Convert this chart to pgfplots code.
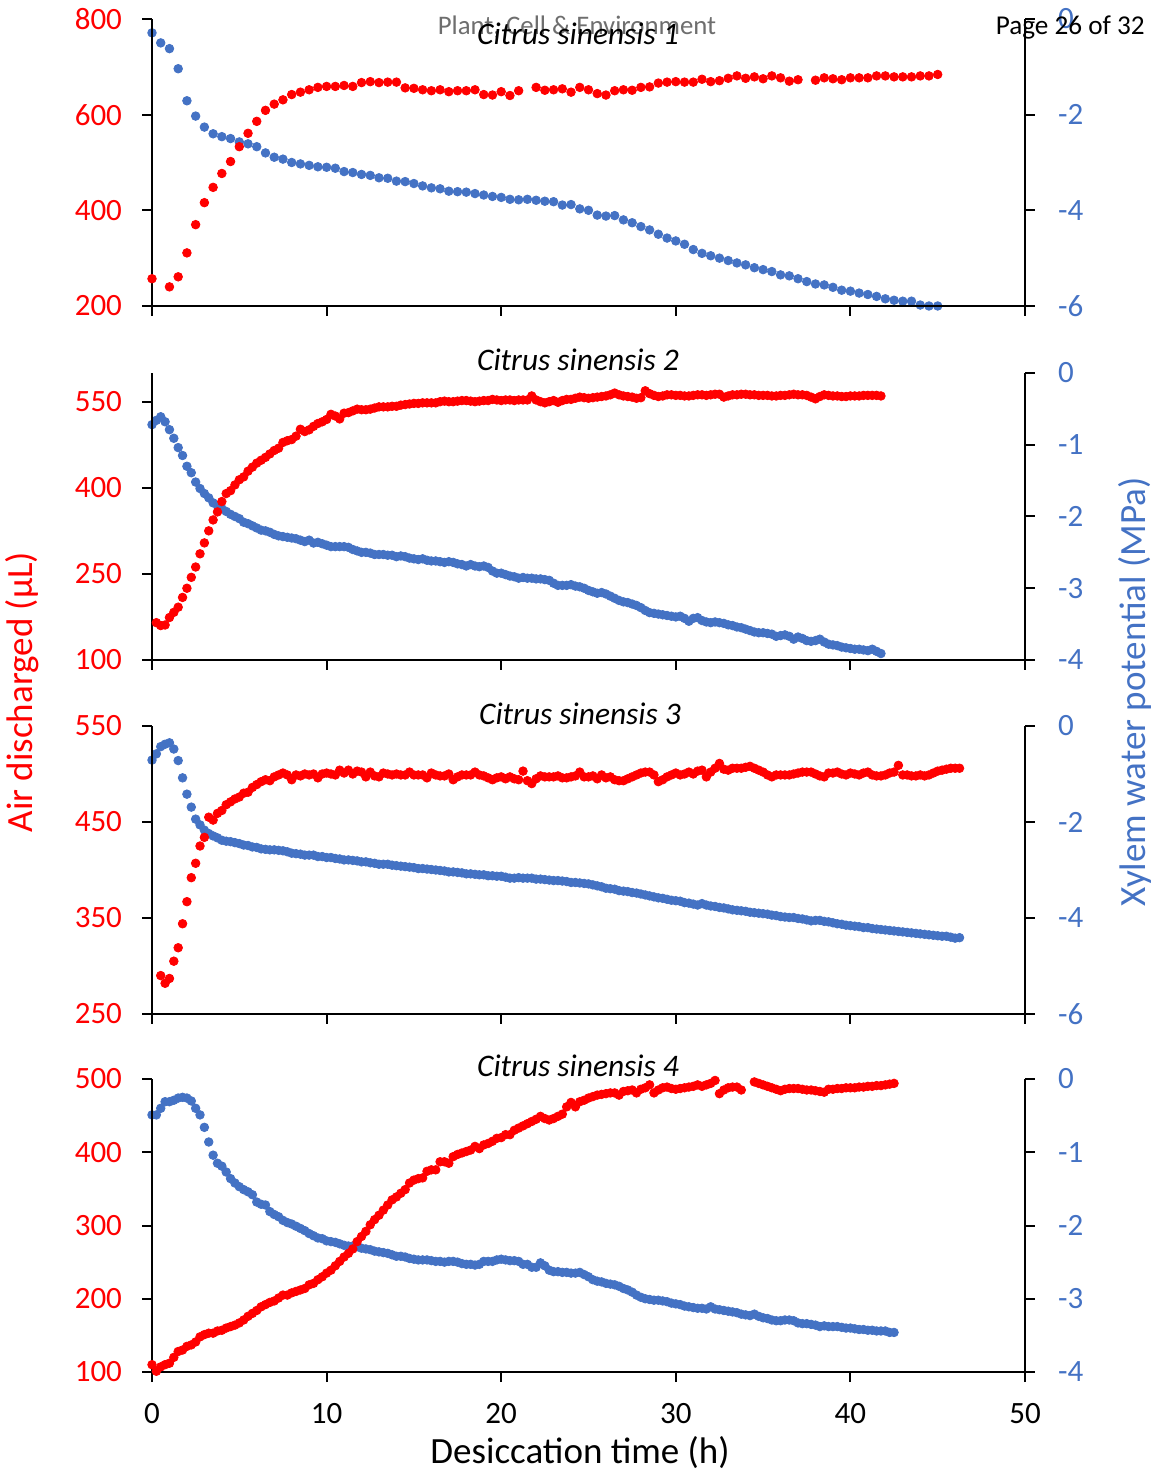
\documentclass[border=0pt]{standalone}
\usepackage{fontspec}
\setmainfont{Carlito}
\usepackage{pgfplots}
\pgfplotsset{compat=1.18}
\definecolor{myred}{RGB}{255,0,0}
\definecolor{myblue}{RGB}{68,114,196}
\definecolor{hdrgray}{RGB}{110,110,110}
\pgfplotsset{
  panel/.style={width=436.5pt, scale only axis, xmin=0, xmax=50, clip=false,
    axis line style={line width=1pt, black}, tick style={line width=1pt, black},
    major tick length=5pt, tick align=outside,
    xtick={0,10,20,30,40,50},
    ticklabel style={font=\fontsize{15.5}{18}\selectfont},
    xticklabel style={yshift=-7pt}},
  leftax/.style={panel, axis x line*=bottom, axis y line*=left, xticklabels={},
    yticklabel style={text=myred, xshift=-6.5pt}},
  rightax/.style={panel, axis x line=none, axis y line*=right,
    yticklabel style={text=myblue, xshift=8pt}},
  redm/.style={only marks, mark=*, mark size=2.15pt, color=myred, mark options={fill=myred, draw=myred}},
  bluem/.style={only marks, mark=*, mark size=2.15pt, color=myblue, mark options={fill=myblue, draw=myblue}},
}
\begin{document}
\begin{tikzpicture}
\useasboundingbox (0,0) rectangle (577.5pt,738.5pt);
% ---------------- Panel 1 ----------------
\begin{axis}[rightax, at={(76pt,585.5pt)}, anchor=south west, height=143.5pt,
  ymin=-6, ymax=0, ytick={-6,-4,-2,0}, yticklabels={-6,-4,-2,0}]
\addplot[bluem] coordinates {(0,-0.29)(0.5,-0.50)(1,-0.62)(1.5,-1.04)(2,-1.71)(2.5,-2.03)(3,-2.26)(3.5,-2.40)(4,-2.46)(4.5,-2.50)(5,-2.57)(5.5,-2.61)(6,-2.67)(6.5,-2.80)(7,-2.89)(7.5,-2.93)(8,-3.00)(8.5,-3.03)(9,-3.06)(9.5,-3.09)(10,-3.10)(10.5,-3.12)(11,-3.19)(11.5,-3.21)(12,-3.25)(12.5,-3.27)(13,-3.32)(13.5,-3.33)(14,-3.39)(14.5,-3.40)(15,-3.44)(15.5,-3.49)(16,-3.53)(16.5,-3.55)(17,-3.60)(17.5,-3.61)(18,-3.62)(18.5,-3.65)(19,-3.68)(19.5,-3.71)(20,-3.73)(20.5,-3.77)(21,-3.78)(21.5,-3.77)(22,-3.79)(22.5,-3.81)(23,-3.82)(23.5,-3.89)(24,-3.88)(24.5,-3.97)(25,-4.00)(25.5,-4.10)(26,-4.12)(26.5,-4.11)(27,-4.20)(27.5,-4.26)(28,-4.34)(28.5,-4.41)(29,-4.50)(29.5,-4.58)(30,-4.64)(30.5,-4.71)(31,-4.82)(31.5,-4.90)(32,-4.95)(32.5,-5.00)(33,-5.05)(33.5,-5.10)(34,-5.14)(34.5,-5.20)(35,-5.24)(35.5,-5.28)(36,-5.35)(36.5,-5.37)(37,-5.43)(37.5,-5.49)(38,-5.54)(38.5,-5.56)(39,-5.61)(39.5,-5.67)(40,-5.69)(40.5,-5.73)(41,-5.76)(41.5,-5.80)(42,-5.85)(42.5,-5.88)(43,-5.90)(43.5,-5.90)(44,-5.98)(44.5,-6.00)(45,-6.00)};
\end{axis}
\begin{axis}[leftax, at={(76pt,585.5pt)}, anchor=south west, height=143.5pt,
  ymin=200, ymax=800, ytick={200,400,600,800}, yticklabels={200,400,600,800}]
\addplot[redm] coordinates {(0,257)(1,240)(1.5,261)(2,311)(2.5,370)(3,416)(3.5,448)(4,477)(4.5,502)(5,533)(5.5,561)(6,586)(6.5,609)(7,622)(7.5,631)(8,642)(8.5,647)(9,652)(9.5,657)(10,659)(10.5,659)(11,661)(11.5,659)(12,667)(12.5,669)(13,667)(13.5,668)(14,668)(14.5,656)(15,655)(15.5,652)(16,650)(16.5,652)(17,648)(17.5,650)(18,650)(18.5,652)(19,642)(19.5,641)(20,648)(20.5,640)(21,650)(22,657)(22.5,651)(23,652)(23.5,654)(24,647)(24.5,657)(25,652)(25.5,644)(26,641)(26.5,650)(27,652)(27.5,651)(28,657)(28.5,658)(29,666)(29.5,668)(30,669)(30.5,668)(31,668)(31.5,674)(32,669)(32.5,671)(33,676)(33.5,681)(34,676)(34.5,679)(35,675)(35.5,681)(36,677)(36.5,670)(37,673)(38,672)(38.5,677)(39,675)(39.5,673)(40,677)(40.5,677)(41,677)(41.5,681)(42,681)(42.5,679)(43,679)(43.5,679)(44,681)(44.5,681)(45,684)};
\end{axis}
% ---------------- Panel 2 ----------------
\begin{axis}[rightax, at={(76pt,408.5pt)}, anchor=south west, height=143.5pt,
  ymin=-4, ymax=0, ytick={-4,-3,-2,-1,0}, yticklabels={-4,-3,-2,-1,0}]
\addplot[bluem] coordinates {(0,-0.72)(0.25,-0.66)(0.5,-0.61)(0.75,-0.68)(1,-0.79)(1.25,-0.91)(1.5,-1.04)(1.75,-1.15)(2,-1.30)(2.25,-1.39)(2.5,-1.52)(2.75,-1.61)(3,-1.68)(3.25,-1.74)(3.5,-1.81)(3.75,-1.85)(4,-1.89)(4.25,-1.93)(4.5,-1.97)(4.75,-2.00)(5,-2.03)(5.25,-2.08)(5.5,-2.10)(5.75,-2.13)(6,-2.16)(6.25,-2.19)(6.5,-2.20)(6.75,-2.22)(7,-2.25)(7.25,-2.27)(7.5,-2.28)(7.75,-2.29)(8,-2.30)(8.25,-2.31)(8.5,-2.33)(8.75,-2.35)(9,-2.33)(9.25,-2.37)(9.5,-2.36)(9.75,-2.38)(10,-2.40)(10.25,-2.42)(10.5,-2.42)(10.75,-2.42)(11,-2.42)(11.25,-2.43)(11.5,-2.46)(11.75,-2.48)(12,-2.50)(12.25,-2.50)(12.5,-2.51)(12.75,-2.53)(13,-2.53)(13.25,-2.53)(13.5,-2.54)(13.75,-2.54)(14,-2.56)(14.25,-2.55)(14.5,-2.56)(14.75,-2.58)(15,-2.59)(15.25,-2.60)(15.5,-2.59)(15.75,-2.61)(16,-2.62)(16.25,-2.62)(16.5,-2.63)(16.75,-2.64)(17,-2.63)(17.25,-2.64)(17.5,-2.66)(17.75,-2.67)(18,-2.69)(18.25,-2.67)(18.5,-2.69)(18.75,-2.70)(19,-2.69)(19.25,-2.71)(19.5,-2.76)(19.75,-2.79)(20,-2.79)(20.25,-2.81)(20.5,-2.83)(20.75,-2.84)(21,-2.86)(21.25,-2.85)(21.5,-2.86)(21.75,-2.86)(22,-2.87)(22.25,-2.87)(22.5,-2.88)(22.75,-2.89)(23,-2.93)(23.25,-2.96)(23.5,-2.96)(23.75,-2.96)(24,-2.95)(24.25,-2.97)(24.5,-2.98)(24.75,-3.00)(25,-3.03)(25.25,-3.05)(25.5,-3.07)(25.75,-3.06)(26,-3.08)(26.25,-3.11)(26.5,-3.14)(26.75,-3.17)(27,-3.19)(27.25,-3.20)(27.5,-3.22)(27.75,-3.24)(28,-3.27)(28.25,-3.31)(28.5,-3.34)(28.75,-3.35)(29,-3.36)(29.25,-3.37)(29.5,-3.38)(29.75,-3.39)(30,-3.40)(30.25,-3.39)(30.5,-3.42)(30.75,-3.46)(31,-3.42)(31.25,-3.41)(31.5,-3.45)(31.75,-3.47)(32,-3.48)(32.25,-3.47)(32.5,-3.48)(32.75,-3.49)(33,-3.51)(33.25,-3.52)(33.5,-3.54)(33.75,-3.55)(34,-3.57)(34.25,-3.59)(34.5,-3.61)(34.75,-3.62)(35,-3.62)(35.25,-3.63)(35.5,-3.64)(35.75,-3.67)(36,-3.66)(36.25,-3.65)(36.5,-3.67)(36.75,-3.71)(37,-3.68)(37.25,-3.70)(37.5,-3.73)(37.75,-3.74)(38,-3.73)(38.25,-3.71)(38.5,-3.75)(38.75,-3.78)(39,-3.79)(39.25,-3.80)(39.5,-3.82)(39.75,-3.83)(40,-3.84)(40.25,-3.85)(40.5,-3.85)(40.75,-3.86)(41,-3.87)(41.25,-3.85)(41.5,-3.88)(41.75,-3.91)};
\end{axis}
\begin{axis}[leftax, at={(76pt,408.5pt)}, anchor=south west, height=143.5pt,
  ymin=100, ymax=600, ytick={100,250,400,550}, yticklabels={100,250,400,550}]
\addplot[redm] coordinates {(0.25,165)(0.5,160)(0.75,161)(1,174)(1.25,183)(1.5,192)(1.75,209)(2,225)(2.25,244)(2.5,262)(2.75,285)(3,304)(3.25,325)(3.5,344)(3.75,358)(4,376)(4.25,390)(4.5,395)(4.75,405)(5,414)(5.25,419)(5.5,429)(5.75,436)(6,443)(6.25,448)(6.5,453)(6.75,459)(7,465)(7.25,469)(7.5,479)(7.75,482)(8,484)(8.25,490)(8.5,502)(8.75,498)(9,501)(9.25,507)(9.5,512)(9.75,515)(10,519)(10.25,528)(10.5,525)(10.75,520)(11,530)(11.25,531)(11.5,534)(11.75,537)(12,536)(12.25,536)(12.5,537)(12.75,539)(13,541)(13.25,541)(13.5,541)(13.75,542)(14,542)(14.25,544)(14.5,545)(14.75,546)(15,547)(15.25,547)(15.5,548)(15.75,548)(16,548)(16.25,548)(16.5,550)(16.75,551)(17,550)(17.25,550)(17.5,551)(17.75,552)(18,552)(18.25,551)(18.5,550)(18.75,551)(19,552)(19.25,552)(19.5,554)(19.75,553)(20,552)(20.25,553)(20.5,553)(20.75,552)(21,553)(21.25,553)(21.5,553)(21.75,560)(22,553)(22.25,550)(22.5,548)(22.75,550)(23,552)(23.25,549)(23.5,552)(23.75,554)(24,554)(24.25,556)(24.5,558)(24.75,557)(25,556)(25.25,557)(25.5,558)(25.75,559)(26,560)(26.25,562)(26.5,565)(26.75,562)(27,560)(27.25,559)(27.5,558)(27.75,556)(28,557)(28.25,569)(28.5,564)(28.75,561)(29,559)(29.25,560)(29.5,562)(29.75,562)(30,561)(30.25,561)(30.5,560)(30.75,560)(31,561)(31.25,562)(31.5,562)(31.75,561)(32,562)(32.25,563)(32.5,563)(32.75,558)(33,560)(33.25,562)(33.5,562)(33.75,563)(34,563)(34.25,562)(34.5,562)(34.75,561)(35,561)(35.25,561)(35.5,560)(35.75,560)(36,561)(36.25,561)(36.5,562)(36.75,563)(37,562)(37.25,562)(37.5,561)(37.75,558)(38,555)(38.25,559)(38.5,562)(38.75,561)(39,560)(39.25,560)(39.5,559)(39.75,559)(40,560)(40.25,560)(40.5,560)(40.75,561)(41,561)(41.25,561)(41.5,561)(41.75,560)};
\end{axis}
% ---------------- Panel 3 ----------------
\begin{axis}[rightax, at={(76pt,231.5pt)}, anchor=south west, height=144pt,
  ymin=-6, ymax=0, ytick={-6,-4,-2,0}, yticklabels={-6,-4,-2,0}]
\addplot[bluem] coordinates {(0,-0.71)(0.25,-0.58)(0.5,-0.43)(0.75,-0.38)(1,-0.35)(1.25,-0.48)(1.5,-0.72)(1.75,-1.08)(2,-1.42)(2.25,-1.69)(2.5,-1.94)(2.75,-2.06)(3,-2.17)(3.25,-2.24)(3.5,-2.29)(3.75,-2.33)(4,-2.38)(4.25,-2.40)(4.5,-2.41)(4.75,-2.43)(5,-2.45)(5.25,-2.48)(5.5,-2.49)(5.75,-2.52)(6,-2.53)(6.25,-2.56)(6.5,-2.57)(6.75,-2.58)(7,-2.58)(7.25,-2.59)(7.5,-2.60)(7.75,-2.62)(8,-2.65)(8.25,-2.66)(8.5,-2.67)(8.75,-2.69)(9,-2.69)(9.25,-2.69)(9.5,-2.72)(9.75,-2.72)(10,-2.74)(10.25,-2.74)(10.5,-2.76)(10.75,-2.77)(11,-2.79)(11.25,-2.79)(11.5,-2.80)(11.75,-2.81)(12,-2.83)(12.25,-2.83)(12.5,-2.85)(12.75,-2.86)(13,-2.88)(13.25,-2.88)(13.5,-2.88)(13.75,-2.90)(14,-2.91)(14.25,-2.92)(14.5,-2.93)(14.75,-2.94)(15,-2.95)(15.25,-2.97)(15.5,-2.97)(15.75,-2.98)(16,-2.99)(16.25,-3.00)(16.5,-3.01)(16.75,-3.02)(17,-3.04)(17.25,-3.04)(17.5,-3.05)(17.75,-3.06)(18,-3.08)(18.25,-3.08)(18.5,-3.09)(18.75,-3.10)(19,-3.10)(19.25,-3.12)(19.5,-3.12)(19.75,-3.13)(20,-3.13)(20.25,-3.15)(20.5,-3.17)(20.75,-3.17)(21,-3.16)(21.25,-3.17)(21.5,-3.17)(21.75,-3.17)(22,-3.19)(22.25,-3.19)(22.5,-3.20)(22.75,-3.21)(23,-3.22)(23.25,-3.22)(23.5,-3.23)(23.75,-3.24)(24,-3.26)(24.25,-3.26)(24.5,-3.27)(24.75,-3.28)(25,-3.29)(25.25,-3.31)(25.5,-3.33)(25.75,-3.35)(26,-3.38)(26.25,-3.39)(26.5,-3.40)(26.75,-3.43)(27,-3.44)(27.25,-3.45)(27.5,-3.47)(27.75,-3.48)(28,-3.50)(28.25,-3.52)(28.5,-3.54)(28.75,-3.56)(29,-3.58)(29.25,-3.59)(29.5,-3.61)(29.75,-3.63)(30,-3.64)(30.25,-3.65)(30.5,-3.68)(30.75,-3.69)(31,-3.71)(31.25,-3.73)(31.5,-3.70)(31.75,-3.73)(32,-3.75)(32.25,-3.76)(32.5,-3.78)(32.75,-3.79)(33,-3.81)(33.25,-3.83)(33.5,-3.84)(33.75,-3.85)(34,-3.86)(34.25,-3.88)(34.5,-3.89)(34.75,-3.90)(35,-3.91)(35.25,-3.92)(35.5,-3.94)(35.75,-3.95)(36,-3.97)(36.25,-3.98)(36.5,-3.99)(36.75,-3.99)(37,-4.01)(37.25,-4.02)(37.5,-4.04)(37.75,-4.06)(38,-4.05)(38.25,-4.05)(38.5,-4.07)(38.75,-4.08)(39,-4.10)(39.25,-4.12)(39.5,-4.13)(39.75,-4.15)(40,-4.16)(40.25,-4.17)(40.5,-4.18)(40.75,-4.20)(41,-4.20)(41.25,-4.22)(41.5,-4.23)(41.75,-4.24)(42,-4.25)(42.25,-4.26)(42.5,-4.27)(42.75,-4.28)(43,-4.29)(43.25,-4.30)(43.5,-4.31)(43.75,-4.32)(44,-4.33)(44.25,-4.34)(44.5,-4.35)(44.75,-4.36)(45,-4.37)(45.25,-4.38)(45.5,-4.38)(45.75,-4.40)(46,-4.42)(46.25,-4.41)};
\end{axis}
\begin{axis}[leftax, at={(76pt,231.5pt)}, anchor=south west, height=144pt,
  ymin=250, ymax=550, ytick={250,350,450,550}, yticklabels={250,350,450,550}]
\addplot[redm] coordinates {(0.5,290)(0.75,282)(1,287)(1.25,305)(1.5,319)(1.75,344)(2,367)(2.25,392)(2.5,407)(2.75,425)(3,434)(3.25,455)(3.5,452)(3.75,459)(4,462)(4.25,468)(4.5,471)(4.75,474)(5,476)(5.25,480)(5.5,481)(5.75,486)(6,489)(6.25,492)(6.5,494)(6.75,493)(7,497)(7.25,499)(7.5,501)(7.75,499)(8,494)(8.25,499)(8.5,498)(8.75,500)(9,499)(9.25,500)(9.5,496)(9.75,500)(10,501)(10.25,500)(10.5,499)(10.75,504)(11,501)(11.25,504)(11.5,500)(11.75,503)(12,502)(12.25,497)(12.5,502)(12.75,498)(13,497)(13.25,501)(13.5,500)(13.75,499)(14,500)(14.25,499)(14.5,499)(14.75,502)(15,499)(15.25,499)(15.5,499)(15.75,496)(16,501)(16.25,499)(16.5,498)(16.75,498)(17,500)(17.25,494)(17.5,497)(17.75,499)(18,499)(18.25,499)(18.5,502)(18.75,499)(19,498)(19.25,496)(19.5,494)(19.75,496)(20,497)(20.25,495)(20.5,497)(20.75,495)(21,494)(21.25,503)(21.5,493)(21.75,490)(22,495)(22.25,498)(22.5,497)(22.75,497)(23,497)(23.25,498)(23.5,496)(23.75,496)(24,497)(24.25,498)(24.5,502)(24.75,497)(25,497)(25.25,498)(25.5,495)(25.75,499)(26,496)(26.25,497)(26.5,494)(26.75,493)(27,493)(27.25,495)(27.5,497)(27.75,499)(28,501)(28.25,502)(28.5,502)(28.75,499)(29,492)(29.25,494)(29.5,497)(29.75,499)(30,501)(30.25,499)(30.5,500)(30.75,502)(31,500)(31.25,503)(31.5,504)(31.75,497)(32,502)(32.25,506)(32.5,511)(32.75,505)(33,504)(33.25,506)(33.5,506)(33.75,506)(34,507)(34.25,508)(34.5,506)(34.75,504)(35,502)(35.25,499)(35.5,497)(35.75,499)(36,499)(36.25,499)(36.5,499)(36.75,500)(37,501)(37.25,502)(37.5,502)(37.75,502)(38,500)(38.25,498)(38.5,497)(38.75,501)(39,501)(39.25,502)(39.5,500)(39.75,499)(40,501)(40.25,500)(40.5,499)(40.75,501)(41,502)(41.25,499)(41.5,498)(41.75,498)(42,499)(42.25,501)(42.5,502)(42.75,509)(43,499)(43.25,499)(43.5,498)(43.75,498)(44,499)(44.25,498)(44.5,499)(44.75,501)(45,503)(45.25,504)(45.5,505)(45.75,506)(46,506)(46.25,506)};
\end{axis}
% ---------------- Panel 4 ----------------
\begin{axis}[rightax, at={(76pt,52.5pt)}, anchor=south west, height=146.5pt,
  ymin=-4, ymax=0, ytick={-4,-3,-2,-1,0}, yticklabels={-4,-3,-2,-1,0}]
\addplot[bluem] coordinates {(0,-0.49)(0.25,-0.49)(0.5,-0.40)(0.75,-0.31)(1,-0.31)(1.25,-0.29)(1.5,-0.26)(1.75,-0.25)(2,-0.26)(2.25,-0.30)(2.5,-0.40)(2.75,-0.49)(3,-0.66)(3.25,-0.86)(3.5,-1.04)(3.75,-1.15)(4,-1.19)(4.25,-1.27)(4.5,-1.36)(4.75,-1.42)(5,-1.47)(5.25,-1.51)(5.5,-1.54)(5.75,-1.58)(6,-1.68)(6.25,-1.71)(6.5,-1.72)(6.75,-1.81)(7,-1.85)(7.25,-1.88)(7.5,-1.93)(7.75,-1.96)(8,-1.98)(8.25,-2.01)(8.5,-2.04)(8.75,-2.07)(9,-2.11)(9.25,-2.14)(9.5,-2.17)(9.75,-2.18)(10,-2.21)(10.25,-2.22)(10.5,-2.23)(10.75,-2.25)(11,-2.27)(11.25,-2.28)(11.5,-2.28)(11.75,-2.29)(12,-2.31)(12.25,-2.32)(12.5,-2.33)(12.75,-2.35)(13,-2.36)(13.25,-2.37)(13.5,-2.38)(13.75,-2.40)(14,-2.42)(14.25,-2.42)(14.5,-2.43)(14.75,-2.45)(15,-2.46)(15.25,-2.47)(15.5,-2.47)(15.75,-2.47)(16,-2.48)(16.25,-2.49)(16.5,-2.49)(16.75,-2.50)(17,-2.49)(17.25,-2.49)(17.5,-2.50)(17.75,-2.52)(18,-2.53)(18.25,-2.53)(18.5,-2.54)(18.75,-2.53)(19,-2.49)(19.25,-2.49)(19.5,-2.49)(19.75,-2.47)(20,-2.46)(20.25,-2.47)(20.5,-2.48)(20.75,-2.48)(21,-2.49)(21.25,-2.53)(21.5,-2.53)(21.75,-2.57)(22,-2.57)(22.25,-2.51)(22.5,-2.55)(22.75,-2.61)(23,-2.63)(23.25,-2.63)(23.5,-2.64)(23.75,-2.64)(24,-2.65)(24.25,-2.65)(24.5,-2.64)(24.75,-2.67)(25,-2.70)(25.25,-2.74)(25.5,-2.76)(25.75,-2.77)(26,-2.79)(26.25,-2.80)(26.5,-2.81)(26.75,-2.83)(27,-2.86)(27.25,-2.88)(27.5,-2.91)(27.75,-2.95)(28,-2.98)(28.25,-3.00)(28.5,-3.01)(28.75,-3.02)(29,-3.02)(29.25,-3.03)(29.5,-3.04)(29.75,-3.06)(30,-3.07)(30.25,-3.08)(30.5,-3.10)(30.75,-3.11)(31,-3.12)(31.25,-3.13)(31.5,-3.13)(31.75,-3.14)(32,-3.11)(32.25,-3.14)(32.5,-3.15)(32.75,-3.16)(33,-3.17)(33.25,-3.18)(33.5,-3.19)(33.75,-3.21)(34,-3.22)(34.25,-3.23)(34.5,-3.21)(34.75,-3.24)(35,-3.26)(35.25,-3.27)(35.5,-3.29)(35.75,-3.30)(36,-3.30)(36.25,-3.29)(36.5,-3.29)(36.75,-3.30)(37,-3.33)(37.25,-3.34)(37.5,-3.34)(37.75,-3.35)(38,-3.36)(38.25,-3.38)(38.5,-3.37)(38.75,-3.38)(39,-3.38)(39.25,-3.38)(39.5,-3.39)(39.75,-3.40)(40,-3.40)(40.25,-3.41)(40.5,-3.42)(40.75,-3.42)(41,-3.43)(41.25,-3.43)(41.5,-3.44)(41.75,-3.44)(42,-3.44)(42.25,-3.46)(42.5,-3.46)};
\end{axis}
\begin{axis}[leftax, at={(76pt,52.5pt)}, anchor=south west, height=146.5pt,
  ymin=100, ymax=500, ytick={100,200,300,400,500}, yticklabels={100,200,300,400,500},
  xticklabels={0,10,20,30,40,50}]
\addplot[redm] coordinates {(0,110)(0.25,101)(0.5,107)(0.75,110)(1,112)(1.25,120)(1.5,128)(1.75,130)(2,135)(2.25,137)(2.5,141)(2.75,148)(3,151)(3.25,153)(3.5,153)(3.75,156)(4,157)(4.25,160)(4.5,162)(4.75,164)(5,167)(5.25,171)(5.5,176)(5.75,180)(6,184)(6.25,189)(6.5,192)(6.75,195)(7,197)(7.25,201)(7.5,205)(7.75,205)(8,208)(8.25,210)(8.5,212)(8.75,214)(9,219)(9.25,221)(9.5,226)(9.75,230)(10,235)(10.25,239)(10.5,245)(10.75,251)(11,257)(11.25,262)(11.5,268)(11.75,278)(12,285)(12.25,292)(12.5,301)(12.75,308)(13,314)(13.25,321)(13.5,328)(13.75,335)(14,339)(14.25,344)(14.5,349)(14.75,358)(15,362)(15.25,364)(15.5,365)(15.75,374)(16,376)(16.25,376)(16.5,387)(16.75,387)(17,385)(17.25,394)(17.5,397)(17.75,399)(18,401)(18.25,403)(18.5,408)(18.75,405)(19,410)(19.25,412)(19.5,415)(19.75,419)(20,420)(20.25,424)(20.5,424)(20.75,430)(21,433)(21.25,436)(21.5,439)(21.75,442)(22,445)(22.25,449)(22.5,446)(22.75,444)(23,446)(23.25,449)(23.5,452)(23.75,462)(24,468)(24.25,462)(24.5,469)(24.75,471)(25,474)(25.25,476)(25.5,478)(25.75,479)(26,480)(26.25,481)(26.5,481)(26.75,478)(27,483)(27.25,484)(27.5,485)(27.75,481)(28,486)(28.25,488)(28.5,492)(28.75,481)(29,485)(29.25,488)(29.5,489)(29.75,487)(30,486)(30.25,487)(30.5,488)(30.75,489)(31,490)(31.25,492)(31.5,490)(31.75,492)(32,494)(32.25,498)(32.5,480)(32.75,485)(33,488)(33.25,489)(33.5,489)(33.75,485)(34.5,496)(34.75,494)(35,492)(35.25,490)(35.5,488)(35.75,486)(36,484)(36.25,486)(36.5,487)(36.75,487)(37,487)(37.25,486)(37.5,485)(37.75,485)(38,484)(38.25,483)(38.5,482)(38.75,486)(39,486)(39.25,487)(39.5,487)(39.75,488)(40,488)(40.25,488)(40.5,489)(40.75,489)(41,490)(41.25,490)(41.5,491)(41.75,491)(42,492)(42.25,493)(42.5,494)};
\end{axis}
% ---------------- Texts ----------------
\node[anchor=base, inner sep=0pt, font=\fontsize{13.4}{16}\selectfont, text=hdrgray] at (288.5pt,721pt) {Plant, Cell \& Environment};
\node[anchor=base east, inner sep=0pt, font=\fontsize{13.6}{16}\selectfont] at (572.5pt,721pt) {Page 26 of 32};
\node[anchor=base, font=\fontsize{15.7}{18}\selectfont\itshape] at (289pt,716pt) {Citrus sinensis 1};
\node[anchor=base, font=\fontsize{15.7}{18}\selectfont\itshape] at (289pt,553pt) {Citrus sinensis 2};
\node[anchor=base, font=\fontsize{15.7}{18}\selectfont\itshape] at (290pt,376pt) {Citrus sinensis 3};
\node[anchor=base, font=\fontsize{15.7}{18}\selectfont\itshape] at (289pt,200pt) {Citrus sinensis 4};
\node[font=\fontsize{18.5}{22}\selectfont] at (290pt,12pt) {Desiccation time (h)};
\node[rotate=90, font=\fontsize{18.5}{22}\selectfont, text=myred] at (11pt,392.5pt) {Air discharged (µL)};
\node[rotate=90, font=\fontsize{18.5}{22}\selectfont, text=myblue] at (567.5pt,392.5pt) {Xylem water potential (MPa)};
\end{tikzpicture}
\end{document}
